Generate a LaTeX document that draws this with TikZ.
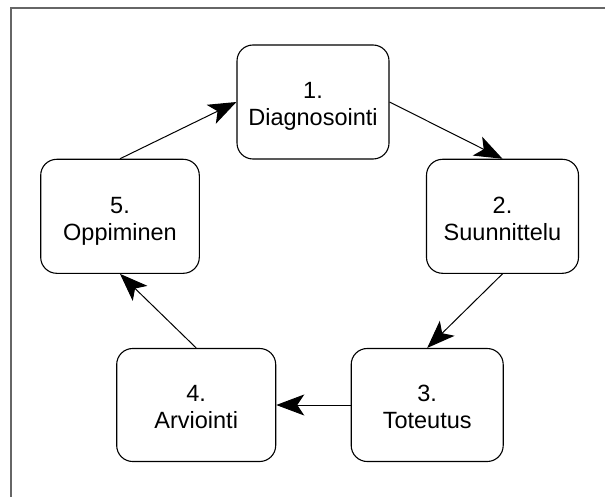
\documentclass[tikz,border=0pt]{standalone}
\usepackage{fontspec}
\setmainfont{Liberation Sans}
\usetikzlibrary{arrows.meta}
\newcommand{\stagetext}[2]{\raisebox{-5pt}[\height][\depth]{\begin{tabular}{@{}c@{}}#1\\#2\end{tabular}}}
\begin{document}
\begin{tikzpicture}[x=1pt,y=-1pt,
  stagebox/.style={draw=black, line width=1.1pt, rounded corners=16pt, fill=white,
    minimum height=114pt, align=center, inner sep=0pt,
    font=\fontsize{23.5}{27}\selectfont},
  flow/.style={draw=black, line width=1pt, -{Stealth[length=28pt,width=21pt,inset=7pt]}},
  frameline/.style={draw=black!60, line width=2pt}]
\useasboundingbox (0,0) rectangle (605,497);
\fill[white] (0,0) rectangle (605,497);
\draw[frameline] (11,497) -- (11,8) -- (605,8);
\node[stagebox, minimum width=152pt] (n1) at (313,102) {\stagetext{1.}{Diagnosointi}};
\node[stagebox, minimum width=152pt] (n2) at (502.5,216.3) {\stagetext{2.}{Suunnittelu}};
\node[stagebox, minimum width=152pt, minimum height=113pt] (n3) at (427.2,405) {\stagetext{3.}{Toteutus}};
\node[stagebox, minimum width=159pt, minimum height=113pt] (n4) at (196.2,405) {\stagetext{4.}{Arviointi}};
\node[stagebox, minimum width=158.6pt] (n5) at (120,216.3) {\stagetext{5.}{Oppiminen}};
\draw[flow] (n1.east) -- (n2.north);
\draw[flow] (n2.south) -- (n3.north);
\draw[flow] (n3.west) -- (n4.east);
\draw[flow] (n4.north) -- (n5.south);
\draw[flow] (n5.north) -- (n1.west);
\end{tikzpicture}
\end{document}
